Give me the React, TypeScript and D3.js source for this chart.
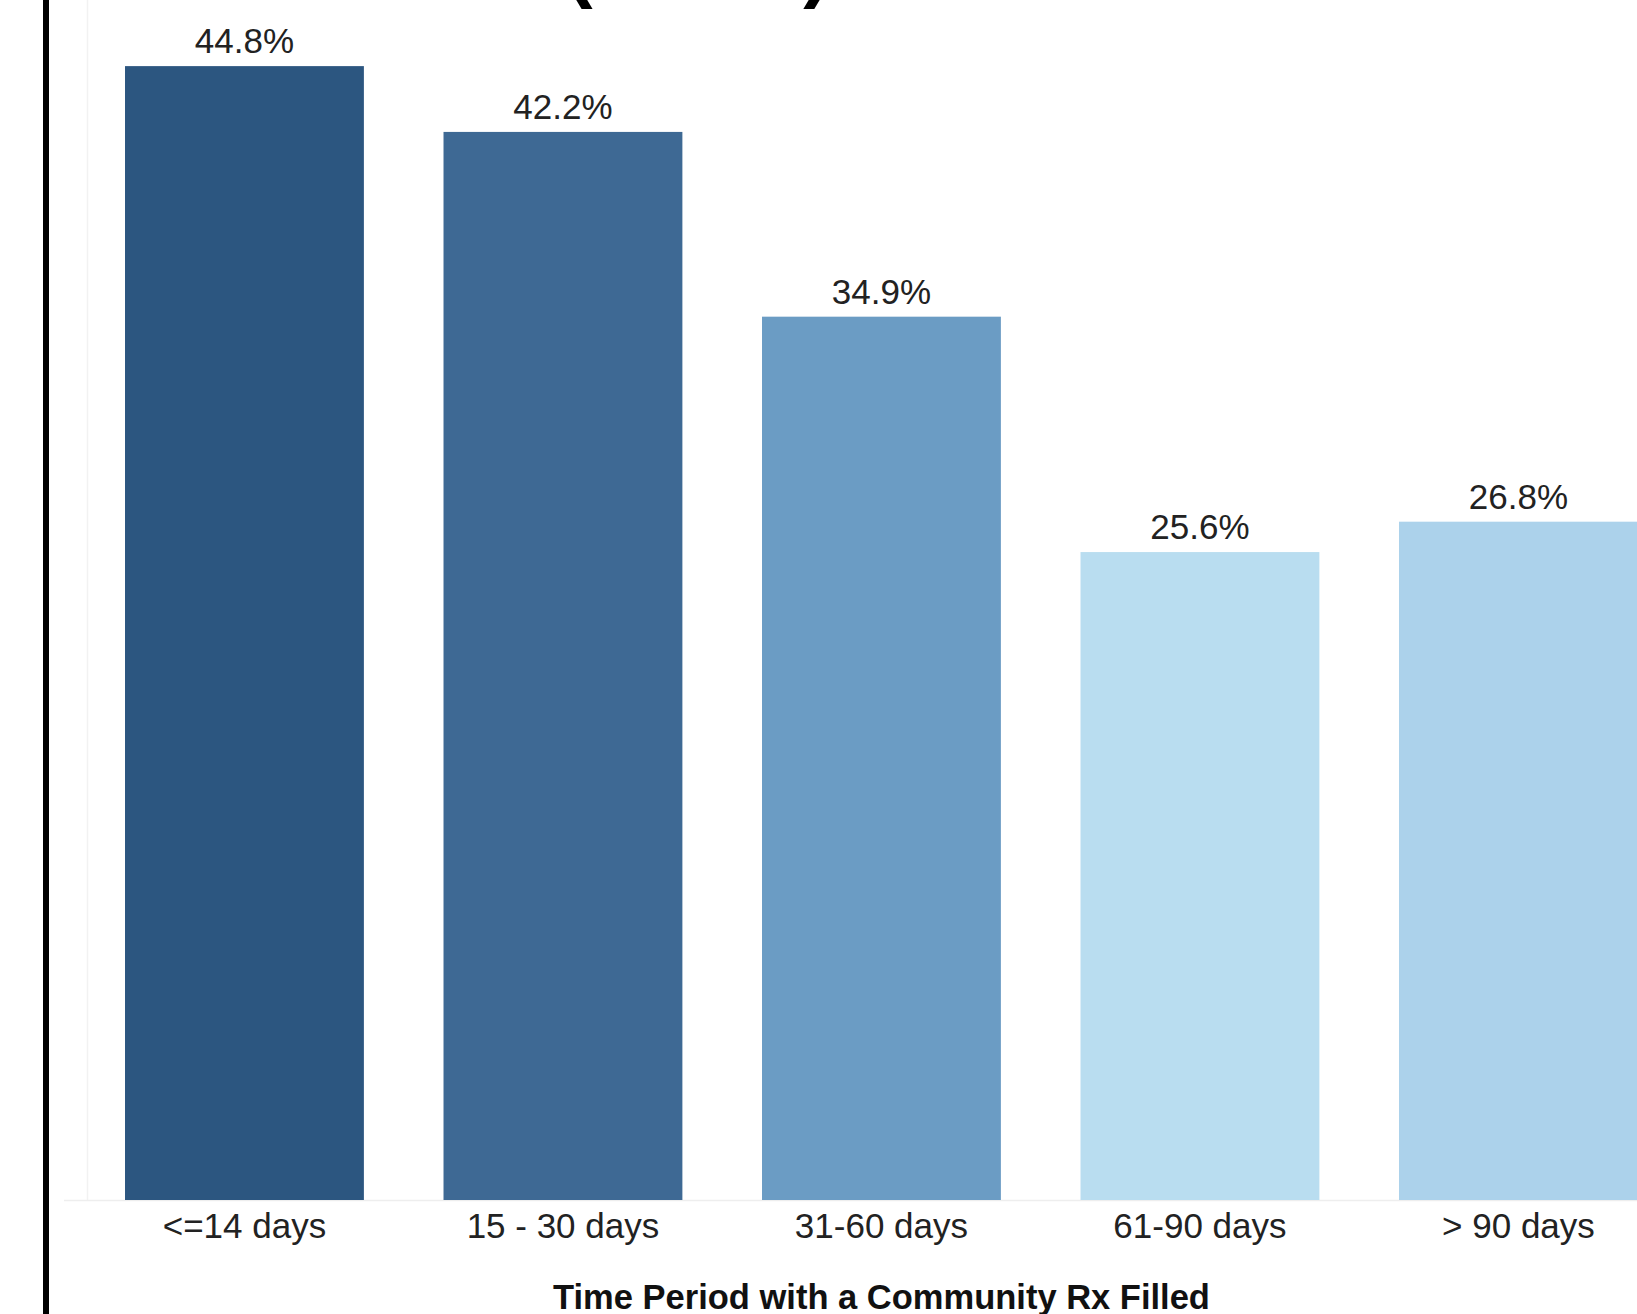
import React from "react";
import * as d3 from "d3";

const categories = ["<=14 days", "15 - 30 days", "31-60 days", "61-90 days", "> 90 days"];
const values = [44.8, 42.2, 34.9, 25.6, 26.8];
const barColors = ["#2c5680", "#3e6994", "#6b9cc4", "#b9ddf0", "#acd2eb"];
const xAxisTitle = "Time Period with a Community Rx Filled";

const W = 1637;
const H = 1314;

export default function App() {
  const x = d3
    .scaleBand<string>()
    .domain(categories)
    .range([85.2, 1677.7])
    .paddingInner(0.25)
    .paddingOuter(0.125);
  const y = d3.scaleLinear().domain([0, 50]).range([1200, 1200 - 50 * 25.31]);
  const font = "'Liberation Sans', Arial, sans-serif";

  return (
    <svg
      width={W}
      height={H}
      style={{ position: "absolute", left: 0, top: 0, background: "#fff" }}
    >
      <rect x={0} y={0} width={W} height={H} fill="#fff" />
      {/* faint plot frame */}
      <line x1={87.5} x2={87.5} y1={0} y2={1200} stroke="#f2f2f2" strokeWidth={1.5} />
      <line x1={64} x2={W} y1={1200.5} y2={1200.5} stroke="#eeeeee" strokeWidth={1.5} />
      {/* bars */}
      {categories.map((c, i) => (
        <rect
          key={c}
          x={x(c)}
          y={y(values[i])}
          width={x.bandwidth()}
          height={y(0) - y(values[i])}
          fill={barColors[i]}
        />
      ))}
      {/* value labels */}
      {categories.map((c, i) => (
        <text
          key={"v" + c}
          x={(x(c) as number) + x.bandwidth() / 2}
          y={y(values[i]) - 13}
          textAnchor="middle"
          fontFamily={font}
          fontSize={35}
          fill="#222"
        >
          {values[i].toFixed(1) + "%"}
        </text>
      ))}
      {/* category labels */}
      {categories.map((c) => (
        <text
          key={"c" + c}
          x={(x(c) as number) + x.bandwidth() / 2}
          y={1238}
          textAnchor="middle"
          fontFamily={font}
          fontSize={35}
          fill="#222"
        >
          {c}
        </text>
      ))}
      <text
        x={881.5}
        y={1309}
        textAnchor="middle"
        fontFamily={font}
        fontSize={34.5}
        fontWeight="bold"
        fill="#111"
      >
        {xAxisTitle}
      </text>
      {/* cut-off title parentheses */}
      <text x={566} y={-8} fontFamily={font} fontSize={80} fontWeight="bold" fill="#000">
        (
      </text>
      <text x={830} y={-8} textAnchor="end" fontFamily={font} fontSize={80} fontWeight="bold" fill="#000">
        )
      </text>
      {/* left black rule */}
      <rect x={43} y={0} width={6} height={H} fill="#000" />
    </svg>
  );
}
